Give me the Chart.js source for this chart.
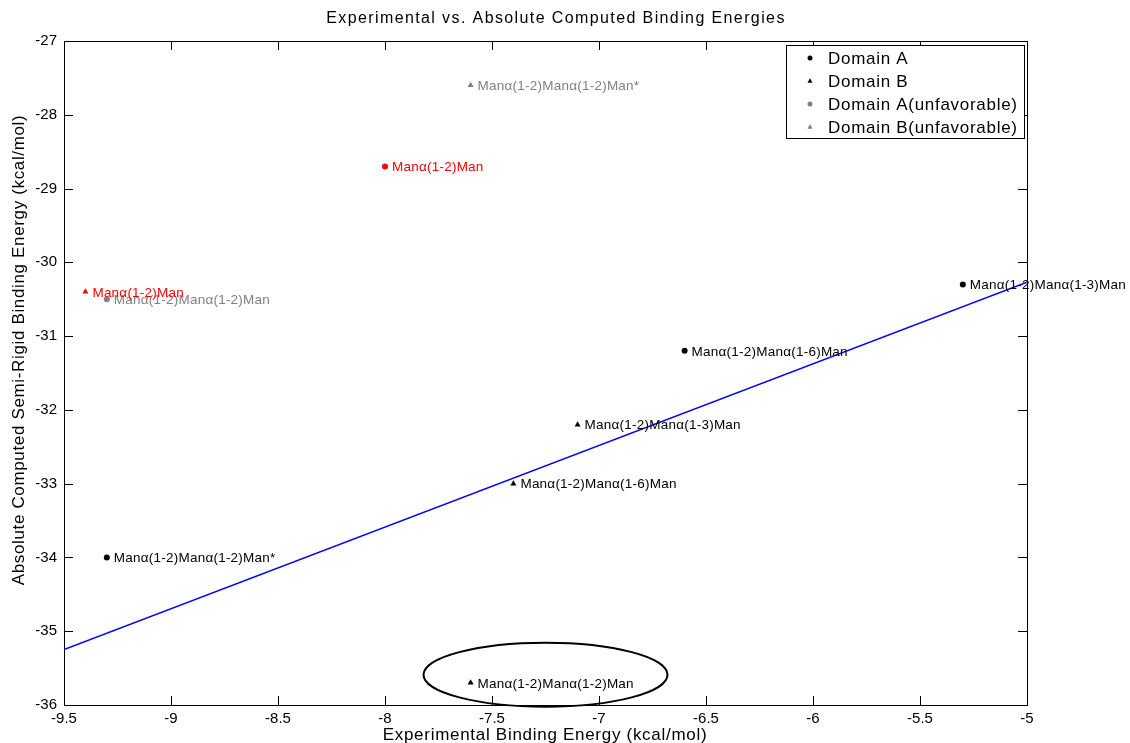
<!DOCTYPE html>
<html>
<head>
<meta charset="utf-8">
<script src="https://cdn.jsdelivr.net/npm/chart.js@4/dist/chart.umd.min.js"></script>
<style>
html,body{margin:0;padding:0;background:#fff;}
#wrap{width:1130px;height:743px;}
</style>
</head>
<body>
<div id="wrap"><canvas id="c" width="1130" height="743"></canvas></div>
<script>
// ---- data ----
const titleText = "Experimental vs. Absolute Computed Binding Energies";
const xTitle = "Experimental Binding Energy (kcal/mol)";
const yTitle = "Absolute Computed Semi-Rigid Binding Energy (kcal/mol)";

const domainAX = [-5.3, -6.6, -9.3];
const domainAY = [-30.3, -31.2, -34.0];
const domainALabels = ["Manα(1-2)Manα(1-3)Man", "Manα(1-2)Manα(1-6)Man", "Manα(1-2)Manα(1-2)Man*"];

const domainBX = [-7.1, -7.4, -7.6];
const domainBY = [-32.2, -33.0, -35.7];
const domainBLabels = ["Manα(1-2)Manα(1-3)Man", "Manα(1-2)Manα(1-6)Man", "Manα(1-2)Manα(1-2)Man"];

const domainAUnfavX = [-9.3];
const domainAUnfavY = [-30.5];
const domainAUnfavLabels = ["Manα(1-2)Manα(1-2)Man"];

const domainBUnfavX = [-7.6];
const domainBUnfavY = [-27.6];
const domainBUnfavLabels = ["Manα(1-2)Manα(1-2)Man*"];

const redCircleX = [-8.0];
const redCircleY = [-28.7];
const redCircleLabels = ["Manα(1-2)Man"];

const redTriangleX = [-9.4];
const redTriangleY = [-30.4];
const redTriangleLabels = ["Manα(1-2)Man"];

const fitLineX = [-9.5, -5.0];
const fitLineY = [-35.25, -30.27];

const ellipseCenter = [-7.25, -35.59];
const ellipseRadii = [0.57, 0.434];

const legendNames = ["Domain A", "Domain B", "Domain A(unfavorable)", "Domain B(unfavorable)"];

// ---- build ----
const pts = (xs, ys) => xs.map((x, i) => ({x: x, y: ys[i]}));
const BLACK = "#000000", GRAY = "#808080", RED = "#ff0000";

function scatterDs(label, xs, ys, labels, color, style, showLegend) {
  return {
    type: 'scatter', label: label, data: pts(xs, ys), pointLabels: labels,
    pointStyle: style, pointRadius: style === 'triangle' ? 3.5 : 3,
    backgroundColor: color, borderColor: color, borderWidth: 0,
    legendColor: color, inLegend: showLegend
  };
}

const datasets = [
  {type: 'line', label: 'fit', data: pts(fitLineX, fitLineY), borderColor: '#0000ff',
   borderWidth: 1.5, pointRadius: 0, fill: false, tension: 0},
  scatterDs(legendNames[0], domainAX, domainAY, domainALabels, BLACK, 'circle', true),
  scatterDs(legendNames[1], domainBX, domainBY, domainBLabels, BLACK, 'triangle', true),
  scatterDs(legendNames[2], domainAUnfavX, domainAUnfavY, domainAUnfavLabels, GRAY, 'circle', true),
  scatterDs(legendNames[3], domainBUnfavX, domainBUnfavY, domainBUnfavLabels, GRAY, 'triangle', true),
  scatterDs('red A', redCircleX, redCircleY, redCircleLabels, RED, 'circle', false),
  scatterDs('red B', redTriangleX, redTriangleY, redTriangleLabels, RED, 'triangle', false)
];

const FONT = "'Liberation Sans', Arial, Helvetica, sans-serif";

function spacingFor(ctx, font, refText, target) {
  ctx.save();
  ctx.font = font;
  if ('letterSpacing' in ctx) ctx.letterSpacing = '0px';
  const w = ctx.measureText(refText).width;
  ctx.restore();
  return Math.max(0, (target - w) / Math.max(1, refText.length - 1));
}
function setSpacing(ctx, px) {
  if ('letterSpacing' in ctx) ctx.letterSpacing = px.toFixed(2) + 'px';
}

function drawMarker(ctx, style, x, y, r, color) {
  ctx.fillStyle = color;
  ctx.beginPath();
  if (style === 'circle') {
    ctx.arc(x, y, r, 0, Math.PI * 2);
  } else {
    ctx.moveTo(x, y - r * 1.1);
    ctx.lineTo(x + r, y + r * 0.7);
    ctx.lineTo(x - r, y + r * 0.7);
    ctx.closePath();
  }
  ctx.fill();
}

const decor = {
  id: 'decor',
  beforeDatasetsDraw(chart) {
    const {ctx, chartArea: a, scales: {x, y}} = chart;
    ctx.save();
    ctx.strokeStyle = '#000'; ctx.lineWidth = 1;
    ctx.strokeRect(Math.round(a.left) + 0.5, Math.round(a.top) + 0.5, Math.round(a.right - a.left), Math.round(a.bottom - a.top));
    const L = 9;
    ctx.beginPath();
    x.ticks.forEach(t => {
      const px = Math.round(x.getPixelForValue(t.value)) + 0.5;
      ctx.moveTo(px, a.bottom); ctx.lineTo(px, a.bottom - L);
      ctx.moveTo(px, a.top); ctx.lineTo(px, a.top + L);
    });
    y.ticks.forEach(t => {
      const py = Math.round(y.getPixelForValue(t.value)) + 0.5;
      ctx.moveTo(a.left, py); ctx.lineTo(a.left + L, py);
      ctx.moveTo(a.right, py); ctx.lineTo(a.right - L, py);
    });
    ctx.stroke();
    ctx.restore();
  },
  afterDatasetsDraw(chart) {
    const {ctx, chartArea: a, scales: {x, y}} = chart;
    ctx.save();
    // point labels
    const plFont = "13.5px " + FONT;
    const plSp = spacingFor(ctx, plFont, "Manα(1-2)Manα(1-3)Man", 156);
    ctx.font = plFont;
    setSpacing(ctx, plSp);
    ctx.textBaseline = 'middle';
    ctx.textAlign = 'left';
    chart.data.datasets.forEach(ds => {
      if (!ds.pointLabels) return;
      ds.data.forEach((p, i) => {
        ctx.fillStyle = ds.legendColor;
        ctx.fillText(ds.pointLabels[i], x.getPixelForValue(p.x) + 7, y.getPixelForValue(p.y) + 1);
      });
    });
    setSpacing(ctx, 0);
    // ellipse
    const cx = x.getPixelForValue(ellipseCenter[0]);
    const cy = y.getPixelForValue(ellipseCenter[1]);
    const rx = Math.abs(x.getPixelForValue(ellipseCenter[0] + ellipseRadii[0]) - cx);
    const ry = Math.abs(y.getPixelForValue(ellipseCenter[1] + ellipseRadii[1]) - cy);
    ctx.strokeStyle = '#000'; ctx.lineWidth = 2;
    ctx.beginPath(); ctx.ellipse(cx, cy, rx, ry, 0, 0, Math.PI * 2); ctx.stroke();

    // legend
    const lx = 786, ly = 45, lw = 238, lh = 93;
    ctx.fillStyle = '#fff';
    ctx.fillRect(lx, ly, lw, lh);
    ctx.strokeStyle = '#000'; ctx.lineWidth = 1;
    ctx.strokeRect(lx + 0.5, ly + 0.5, lw, lh);
    const lgFont = "17px " + FONT;
    const lgSp = spacingFor(ctx, lgFont, "Domain A(unfavorable)", 189);
    ctx.font = lgFont;
    setSpacing(ctx, lgSp);
    ctx.textBaseline = 'middle';
    const items = chart.data.datasets.filter(d => d.inLegend);
    items.forEach((d, i) => {
      const yy = ly + 13 + i * 23;
      drawMarker(ctx, d.pointStyle, lx + 24, yy, 2.5, d.legendColor);
      ctx.fillStyle = '#000';
      ctx.fillText(d.label, lx + 42, yy + 1);
    });

    // titles
    ctx.fillStyle = '#000';
    ctx.textAlign = 'center';
    let f = "16px " + FONT;
    ctx.font = f; setSpacing(ctx, spacingFor(ctx, f, titleText, 458));
    ctx.fillText(titleText, 556, 19);
    f = "17px " + FONT;
    ctx.font = f; setSpacing(ctx, spacingFor(ctx, f, xTitle, 324));
    ctx.fillText(xTitle, 545, 735);
    ctx.font = f; setSpacing(ctx, spacingFor(ctx, f, yTitle, 470));
    ctx.save();
    ctx.translate(19, 350);
    ctx.rotate(-Math.PI / 2);
    ctx.fillText(yTitle, 0, 0);
    ctx.restore();
    ctx.restore();
  }
};

const tickFmt = v => String(Math.round(v * 10) / 10);

new Chart(document.getElementById('c'), {
  type: 'scatter',
  data: {datasets: datasets},
  options: {
    responsive: false,
    animation: false,
    devicePixelRatio: 1,
    layout: {padding: {top: 41, right: 103, bottom: 0, left: 0}},
    plugins: {legend: {display: false}, title: {display: false}, tooltip: {enabled: false}},
    scales: {
      x: {
        type: 'linear', min: -9.5, max: -5,
        ticks: {stepSize: 0.5, color: '#000', font: {family: FONT, size: 15}, padding: 5,
                maxRotation: 0, autoSkip: false, callback: tickFmt},
        grid: {display: false, drawTicks: false},
        border: {display: false},
        afterFit: s => { s.height = 38; }
      },
      y: {
        type: 'linear', min: -36, max: -27,
        ticks: {stepSize: 1, color: '#000', font: {family: FONT, size: 15}, padding: 7, autoSkip: false,
                callback: tickFmt},
        grid: {display: false, drawTicks: false},
        border: {display: false},
        afterFit: s => { s.width = 64; }
      }
    }
  },
  plugins: [decor]
});
</script>
</body>
</html>
